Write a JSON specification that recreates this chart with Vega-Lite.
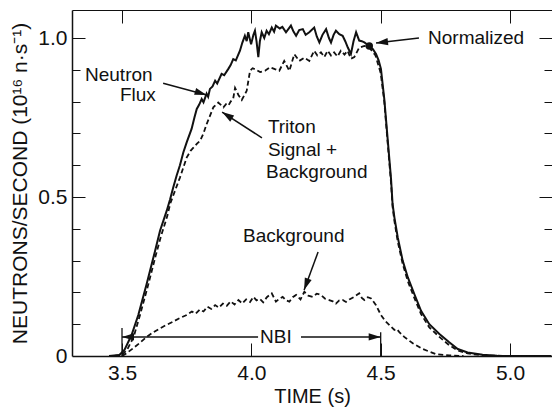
{
  "$schema": "https://vega.github.io/schema/vega-lite/v6.json",
  "width": 480,
  "height": 346,
  "autosize": {"type": "none"},
  "padding": {"left": 72, "top": 10, "right": 0, "bottom": 54},
  "background": "white",
  "config": {"view": {"stroke": null}, "font": "Liberation Sans"},
  "datasets": {
    "flux": [
      {"t":3.45,"v":0},{"t":3.49,"v":0.003},{"t":3.51,"v":0.02},{"t":3.537,"v":0.066},{"t":3.563,"v":0.129},{"t":3.595,"v":0.226},{"t":3.628,"v":0.331},{"t":3.647,"v":0.394},{"t":3.673,"v":0.457},{"t":3.686,"v":0.493},{"t":3.698,"v":0.53},{"t":3.711,"v":0.567},{"t":3.724,"v":0.6},{"t":3.737,"v":0.64},{"t":3.75,"v":0.672},{"t":3.769,"v":0.714},{"t":3.78,"v":0.75},{"t":3.789,"v":0.777},{"t":3.798,"v":0.79},{"t":3.808,"v":0.808},{"t":3.815,"v":0.798},{"t":3.827,"v":0.825},{"t":3.833,"v":0.815},{"t":3.84,"v":0.84},{"t":3.85,"v":0.848},{"t":3.86,"v":0.866},{"t":3.868,"v":0.857},{"t":3.885,"v":0.887},{"t":3.895,"v":0.883},{"t":3.911,"v":0.903},{"t":3.92,"v":0.915},{"t":3.93,"v":0.934},{"t":3.94,"v":0.93},{"t":3.956,"v":0.96},{"t":3.965,"v":0.985},{"t":3.975,"v":1.007},{"t":3.982,"v":0.99},{"t":3.988,"v":1.018},{"t":3.999,"v":0.98},{"t":4.008,"v":1.01},{"t":4.014,"v":1.023},{"t":4.02,"v":0.99},{"t":4.027,"v":0.94},{"t":4.033,"v":0.99},{"t":4.04,"v":1.018},{"t":4.05,"v":1.0},{"t":4.059,"v":1.023},{"t":4.068,"v":1.012},{"t":4.079,"v":1.033},{"t":4.088,"v":1.02},{"t":4.095,"v":1.039},{"t":4.11,"v":1.03},{"t":4.12,"v":1.035},{"t":4.134,"v":1.018},{"t":4.153,"v":1.039},{"t":4.163,"v":1.02},{"t":4.173,"v":1.007},{"t":4.185,"v":1.025},{"t":4.199,"v":1.028},{"t":4.21,"v":1.01},{"t":4.224,"v":1.018},{"t":4.243,"v":1.033},{"t":4.253,"v":1.005},{"t":4.263,"v":0.986},{"t":4.275,"v":1.01},{"t":4.289,"v":1.028},{"t":4.3,"v":1.0},{"t":4.308,"v":0.986},{"t":4.318,"v":1.01},{"t":4.327,"v":1.023},{"t":4.34,"v":1.012},{"t":4.353,"v":1.007},{"t":4.363,"v":0.99},{"t":4.373,"v":0.97},{"t":4.385,"v":0.95},{"t":4.395,"v":0.99},{"t":4.405,"v":1.018},{"t":4.417,"v":0.992},{"t":4.427,"v":0.99},{"t":4.437,"v":0.986},{"t":4.456,"v":0.975},{"t":4.47,"v":0.965},{"t":4.482,"v":0.95},{"t":4.492,"v":0.93},{"t":4.501,"v":0.903},{"t":4.514,"v":0.808},{"t":4.527,"v":0.682},{"t":4.54,"v":0.557},{"t":4.546,"v":0.478},{"t":4.553,"v":0.436},{"t":4.566,"v":0.373},{"t":4.585,"v":0.3},{"t":4.605,"v":0.247},{"t":4.63,"v":0.195},{"t":4.656,"v":0.142},{"t":4.688,"v":0.1},{"t":4.727,"v":0.069},{"t":4.765,"v":0.043},{"t":4.798,"v":0.022},{"t":4.836,"v":0.011},{"t":4.894,"v":0.004},{"t":4.95,"v":0.001},{"t":5.0,"v":0},{"t":5.16,"v":0}
    ],
    "triton": [
      {"t":3.47,"v":0},{"t":3.5,"v":0.004},{"t":3.52,"v":0.02},{"t":3.545,"v":0.06},{"t":3.57,"v":0.13},{"t":3.6,"v":0.22},{"t":3.63,"v":0.315},{"t":3.65,"v":0.375},{"t":3.675,"v":0.44},{"t":3.686,"v":0.478},{"t":3.705,"v":0.52},{"t":3.724,"v":0.561},{"t":3.75,"v":0.624},{"t":3.765,"v":0.645},{"t":3.776,"v":0.655},{"t":3.79,"v":0.668},{"t":3.802,"v":0.677},{"t":3.815,"v":0.7},{"t":3.827,"v":0.729},{"t":3.84,"v":0.755},{"t":3.853,"v":0.782},{"t":3.872,"v":0.797},{"t":3.882,"v":0.79},{"t":3.892,"v":0.782},{"t":3.902,"v":0.792},{"t":3.911,"v":0.787},{"t":3.92,"v":0.8},{"t":3.93,"v":0.81},{"t":3.937,"v":0.843},{"t":3.95,"v":0.821},{"t":3.963,"v":0.805},{"t":3.982,"v":0.834},{"t":3.995,"v":0.897},{"t":4.005,"v":0.905},{"t":4.014,"v":0.902},{"t":4.034,"v":0.893},{"t":4.053,"v":0.897},{"t":4.072,"v":0.908},{"t":4.091,"v":0.902},{"t":4.108,"v":0.897},{"t":4.127,"v":0.928},{"t":4.147,"v":0.897},{"t":4.166,"v":0.949},{"t":4.185,"v":0.928},{"t":4.205,"v":0.938},{"t":4.224,"v":0.928},{"t":4.243,"v":0.96},{"t":4.255,"v":0.945},{"t":4.269,"v":0.955},{"t":4.282,"v":0.94},{"t":4.295,"v":0.96},{"t":4.308,"v":0.945},{"t":4.32,"v":0.955},{"t":4.333,"v":0.942},{"t":4.346,"v":0.96},{"t":4.36,"v":0.948},{"t":4.372,"v":0.96},{"t":4.385,"v":0.935},{"t":4.398,"v":0.94},{"t":4.417,"v":0.97},{"t":4.437,"v":0.975},{"t":4.456,"v":0.97},{"t":4.48,"v":0.945},{"t":4.5,"v":0.89},{"t":4.514,"v":0.8},{"t":4.527,"v":0.67},{"t":4.54,"v":0.545},{"t":4.546,"v":0.47},{"t":4.553,"v":0.425},{"t":4.566,"v":0.36},{"t":4.585,"v":0.29},{"t":4.605,"v":0.235},{"t":4.63,"v":0.183},{"t":4.656,"v":0.132},{"t":4.688,"v":0.09},{"t":4.727,"v":0.06},{"t":4.765,"v":0.034},{"t":4.798,"v":0.017},{"t":4.836,"v":0.008},{"t":4.894,"v":0.002},{"t":5.0,"v":0},{"t":5.1,"v":0}
    ],
    "bkg": [
      {"t":3.5,"v":0},{"t":3.52,"v":0.01},{"t":3.544,"v":0.025},{"t":3.57,"v":0.042},{"t":3.595,"v":0.06},{"t":3.62,"v":0.074},{"t":3.647,"v":0.087},{"t":3.67,"v":0.097},{"t":3.698,"v":0.108},{"t":3.72,"v":0.118},{"t":3.75,"v":0.129},{"t":3.77,"v":0.14},{"t":3.785,"v":0.133},{"t":3.801,"v":0.146},{"t":3.815,"v":0.14},{"t":3.83,"v":0.155},{"t":3.845,"v":0.148},{"t":3.86,"v":0.16},{"t":3.875,"v":0.152},{"t":3.89,"v":0.165},{"t":3.905,"v":0.158},{"t":3.92,"v":0.172},{"t":3.935,"v":0.162},{"t":3.95,"v":0.176},{"t":3.965,"v":0.165},{"t":3.98,"v":0.178},{"t":3.995,"v":0.17},{"t":4.008,"v":0.186},{"t":4.02,"v":0.175},{"t":4.033,"v":0.18},{"t":4.046,"v":0.169},{"t":4.06,"v":0.185},{"t":4.079,"v":0.197},{"t":4.095,"v":0.171},{"t":4.108,"v":0.18},{"t":4.121,"v":0.186},{"t":4.134,"v":0.175},{"t":4.147,"v":0.171},{"t":4.16,"v":0.185},{"t":4.173,"v":0.192},{"t":4.19,"v":0.178},{"t":4.205,"v":0.202},{"t":4.22,"v":0.19},{"t":4.237,"v":0.186},{"t":4.253,"v":0.196},{"t":4.269,"v":0.192},{"t":4.285,"v":0.18},{"t":4.301,"v":0.176},{"t":4.315,"v":0.172},{"t":4.327,"v":0.165},{"t":4.34,"v":0.175},{"t":4.353,"v":0.176},{"t":4.366,"v":0.17},{"t":4.379,"v":0.178},{"t":4.398,"v":0.186},{"t":4.417,"v":0.197},{"t":4.427,"v":0.183},{"t":4.437,"v":0.176},{"t":4.45,"v":0.185},{"t":4.463,"v":0.181},{"t":4.482,"v":0.16},{"t":4.501,"v":0.129},{"t":4.518,"v":0.11},{"t":4.534,"v":0.097},{"t":4.553,"v":0.082},{"t":4.562,"v":0.085},{"t":4.572,"v":0.075},{"t":4.591,"v":0.06},{"t":4.624,"v":0.04},{"t":4.662,"v":0.022},{"t":4.714,"v":0.006},{"t":4.765,"v":0.002},{"t":4.82,"v":0}
    ],
    "arrows": [
      {"name":"neutron","t":3.659,"v":0.858,"t2":3.827,"v2":0.821},
      {"name":"triton","t":4.041,"v":0.686,"t2":3.887,"v2":0.767},
      {"name":"normalized","t":4.648,"v":1.0,"t2":4.482,"v2":0.984},
      {"name":"background","t":4.258,"v":0.327,"t2":4.204,"v2":0.2075},
      {"name":"nbiL","t":4.026,"v":0.06,"t2":3.5,"v2":0.06},
      {"name":"nbiR","t":4.192,"v":0.06,"t2":4.5,"v2":0.06}
    ],
    "bars": [
      {"t":3.5,"v":0,"v2":0.088},
      {"t":4.5,"v":0,"v2":0.075}
    ],
    "dot": [{"t":4.456,"v":0.975}],
    "labels": [
      {"t":3.357,"v":0.884,"text":"Neutron"},
      {"t":3.492,"v":0.821,"text":"Flux"},
      {"t":4.064,"v":0.72,"text":"Triton"},
      {"t":4.064,"v":0.648,"text":"Signal +"},
      {"t":4.057,"v":0.579,"text":"Background"},
      {"t":4.683,"v":1.0,"text":"Normalized"},
      {"t":3.968,"v":0.377,"text":"Background"},
      {"t":4.0335,"v":0.06,"text":"NBI"}
    ]
  },
  "resolve": {"scale": {"x": "independent", "y": "independent"}, "axis": {"x": "independent", "y": "independent"}},
  "layer": [
    {
      "data": {"name": "flux"},
      "mark": {"type": "line", "color": "#111", "strokeWidth": 2, "interpolate": "linear"},
      "encoding": {
        "x": {"field": "t", "type": "quantitative", "scale": {"domain": [3.3067, 5.1623], "nice": false, "zero": false},
          "axis": {"orient": "bottom", "values": [3.5, 4.0, 4.5, 5.0], "format": ".1f", "grid": false, "ticks": false, "domain": true, "domainColor": "#111", "domainWidth": 1.5,
            "labelFont": "Liberation Sans", "labelFontSize": 21, "labelColor": "#111", "labelPadding": 6,
            "title": "TIME (s)", "titleFont": "Liberation Sans", "titleFontSize": 20, "titleFontWeight": "normal", "titleColor": "#111", "titlePadding": 3}},
        "y": {"field": "v", "type": "quantitative", "scale": {"domain": [0, 1.0881], "nice": false, "zero": false},
          "axis": {"orient": "left", "values": [0, 0.5, 1.0], "grid": false, "ticks": false, "domain": true, "domainColor": "#111", "domainWidth": 1.5,
            "labelExpr": "abs(datum.value) < 0.001 ? '0' : (abs(datum.value - 0.5) < 0.001 ? '0.5' : '1.0')",
            "labelFont": "Liberation Sans", "labelFontSize": 21, "labelColor": "#111", "labelPadding": 5,
            "title": "NEUTRONS/SECOND (10¹⁶ n·s⁻¹)", "titleFont": "Liberation Sans", "titleFontSize": 21, "titleFontWeight": "normal", "titleColor": "#111", "titlePadding": 7.5}}
      }
    },
    {
      "data": {"name": "triton"},
      "mark": {"type": "line", "color": "#111", "strokeWidth": 1.8, "strokeDash": [5, 3]},
      "encoding": {
        "x": {"field": "t", "type": "quantitative", "scale": {"domain": [3.3067, 5.1623], "nice": false, "zero": false},
          "axis": {"orient": "top", "offset": -346, "values": [3.5, 4.0, 4.5, 5.0], "tickSize": 13, "title": null, "domainColor": "transparent", "tickColor": "#111", "labelColor": "transparent", "gridColor": "transparent"}},
        "y": {"field": "v", "type": "quantitative", "scale": {"domain": [0, 1.0881], "nice": false, "zero": false},
          "axis": {"orient": "right", "offset": -480, "values": [0.1, 0.2, 0.3, 0.4, 0.5, 0.6, 0.7, 0.8, 0.9, 1.0],
            "tickSize": {"condition": {"test": "abs(round(datum.value*10) % 5) == 0", "value": 13}, "value": 8},
            "title": null, "domainColor": "transparent", "tickColor": "#111", "labelColor": "transparent", "gridColor": "transparent"}}
      }
    },
    {
      "data": {"name": "bkg"},
      "mark": {"type": "line", "color": "#111", "strokeWidth": 1.8, "strokeDash": [5, 3]},
      "encoding": {
        "x": {"field": "t", "type": "quantitative", "scale": {"domain": [3.3067, 5.1623], "nice": false, "zero": false},
          "axis": {"orient": "bottom", "offset": -346, "values": [3.5, 4.0, 4.5, 5.0], "tickSize": 13, "title": null, "domainColor": "#111", "tickColor": "#111", "labelColor": "transparent", "gridColor": "transparent"}},
        "y": {"field": "v", "type": "quantitative", "scale": {"domain": [0, 1.0881], "nice": false, "zero": false},
          "axis": {"orient": "left", "offset": -480, "values": [0.1, 0.2, 0.3, 0.4, 0.5, 0.6, 0.7, 0.8, 0.9, 1.0],
            "tickSize": {"condition": {"test": "abs(round(datum.value*10) % 5) == 0", "value": 13}, "value": 8},
            "title": null, "domainColor": "transparent", "tickColor": "#111", "labelColor": "transparent", "gridColor": "transparent"}}
      }
    },
    {
      "data": {"name": "arrows"},
      "mark": {"type": "rule", "color": "#111", "strokeWidth": 1.5},
      "encoding": {
        "x": {"field": "t", "type": "quantitative", "scale": {"domain": [3.3067, 5.1623], "nice": false, "zero": false}, "axis": null},
        "y": {"field": "v", "type": "quantitative", "scale": {"domain": [0, 1.0881], "nice": false, "zero": false}, "axis": null},
        "x2": {"field": "t2"},
        "y2": {"field": "v2"}
      }
    },
    {
      "data": {"name": "bars"},
      "mark": {"type": "rule", "color": "#111", "strokeWidth": 1.3},
      "encoding": {
        "x": {"field": "t", "type": "quantitative", "scale": {"domain": [3.3067, 5.1623], "nice": false, "zero": false}, "axis": null},
        "y": {"field": "v", "type": "quantitative", "scale": {"domain": [0, 1.0881], "nice": false, "zero": false}, "axis": null},
        "y2": {"field": "v2"}
      }
    },
    {
      "data": {"name": "arrows"},
      "transform": [{"filter": "datum.name == 'neutron'"}],
      "mark": {"type": "point", "shape": "M0,0L-2,-0.6L-2,0.6Z", "size": 144, "filled": true, "color": "#111", "opacity": 1, "angle": 17},
      "encoding": {
        "x": {"field": "t2", "type": "quantitative", "scale": {"domain": [3.3067, 5.1623], "nice": false, "zero": false}, "axis": null},
        "y": {"field": "v2", "type": "quantitative", "scale": {"domain": [0, 1.0881], "nice": false, "zero": false}, "axis": null}
      }
    },
    {
      "data": {"name": "arrows"},
      "transform": [{"filter": "datum.name == 'triton'"}],
      "mark": {"type": "point", "shape": "M0,0L-2,-0.6L-2,0.6Z", "size": 144, "filled": true, "color": "#111", "opacity": 1, "angle": 213},
      "encoding": {
        "x": {"field": "t2", "type": "quantitative", "scale": {"domain": [3.3067, 5.1623], "nice": false, "zero": false}, "axis": null},
        "y": {"field": "v2", "type": "quantitative", "scale": {"domain": [0, 1.0881], "nice": false, "zero": false}, "axis": null}
      }
    },
    {
      "data": {"name": "arrows"},
      "transform": [{"filter": "datum.name == 'normalized'"}],
      "mark": {"type": "point", "shape": "M0,0L-2,-0.6L-2,0.6Z", "size": 144, "filled": true, "color": "#111", "opacity": 1, "angle": 173},
      "encoding": {
        "x": {"field": "t2", "type": "quantitative", "scale": {"domain": [3.3067, 5.1623], "nice": false, "zero": false}, "axis": null},
        "y": {"field": "v2", "type": "quantitative", "scale": {"domain": [0, 1.0881], "nice": false, "zero": false}, "axis": null}
      }
    },
    {
      "data": {"name": "arrows"},
      "transform": [{"filter": "datum.name == 'background'"}],
      "mark": {"type": "point", "shape": "M0,0L-2,-0.6L-2,0.6Z", "size": 144, "filled": true, "color": "#111", "opacity": 1, "angle": 110},
      "encoding": {
        "x": {"field": "t2", "type": "quantitative", "scale": {"domain": [3.3067, 5.1623], "nice": false, "zero": false}, "axis": null},
        "y": {"field": "v2", "type": "quantitative", "scale": {"domain": [0, 1.0881], "nice": false, "zero": false}, "axis": null}
      }
    },
    {
      "data": {"name": "arrows"},
      "transform": [{"filter": "datum.name == 'nbiL'"}],
      "mark": {"type": "point", "shape": "M0,0L-2,-0.6L-2,0.6Z", "size": 144, "filled": true, "color": "#111", "opacity": 1, "angle": 180},
      "encoding": {
        "x": {"field": "t2", "type": "quantitative", "scale": {"domain": [3.3067, 5.1623], "nice": false, "zero": false}, "axis": null},
        "y": {"field": "v2", "type": "quantitative", "scale": {"domain": [0, 1.0881], "nice": false, "zero": false}, "axis": null}
      }
    },
    {
      "data": {"name": "arrows"},
      "transform": [{"filter": "datum.name == 'nbiR'"}],
      "mark": {"type": "point", "shape": "M0,0L-2,-0.6L-2,0.6Z", "size": 144, "filled": true, "color": "#111", "opacity": 1, "angle": 0},
      "encoding": {
        "x": {"field": "t2", "type": "quantitative", "scale": {"domain": [3.3067, 5.1623], "nice": false, "zero": false}, "axis": null},
        "y": {"field": "v2", "type": "quantitative", "scale": {"domain": [0, 1.0881], "nice": false, "zero": false}, "axis": null}
      }
    },
    {
      "data": {"name": "dot"},
      "mark": {"type": "point", "shape": "circle", "size": 55, "filled": true, "color": "#111", "opacity": 1},
      "encoding": {
        "x": {"field": "t", "type": "quantitative", "scale": {"domain": [3.3067, 5.1623], "nice": false, "zero": false}, "axis": null},
        "y": {"field": "v", "type": "quantitative", "scale": {"domain": [0, 1.0881], "nice": false, "zero": false}, "axis": null}
      }
    },
    {
      "data": {"name": "labels"},
      "mark": {"type": "text", "align": "left", "baseline": "middle", "font": "Liberation Sans", "fontSize": 19, "color": "#111"},
      "encoding": {
        "x": {"field": "t", "type": "quantitative", "scale": {"domain": [3.3067, 5.1623], "nice": false, "zero": false}, "axis": null},
        "y": {"field": "v", "type": "quantitative", "scale": {"domain": [0, 1.0881], "nice": false, "zero": false}, "axis": null},
        "text": {"field": "text"}
      }
    }
  ]
}
